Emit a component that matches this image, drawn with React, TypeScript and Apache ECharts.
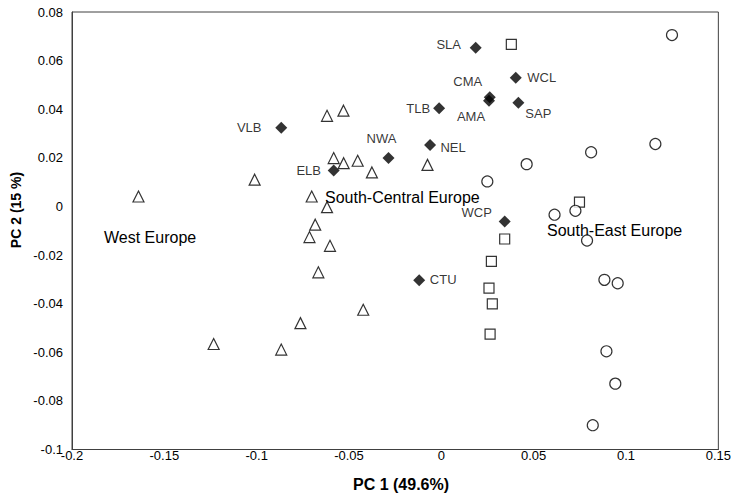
import React, { useEffect, useRef } from "react";
import * as echarts from "echarts";

// ---- Data ----
const xTicks = [-0.2, -0.15, -0.1, -0.05, 0, 0.05, 0.1, 0.15];
const yTicks = [-0.1, -0.08, -0.06, -0.04, -0.02, 0, 0.02, 0.04, 0.06, 0.08];

const triangles: [number, number][] = [
  [-0.164, 0.0041],
  [-0.0619, 0.0373],
  [-0.053, 0.0394],
  [-0.0583, 0.0199],
  [-0.0529, 0.0178],
  [-0.0453, 0.0188],
  [-0.1011, 0.011],
  [-0.0702, 0.0041],
  [-0.0619, -0.0003],
  [-0.0683, -0.0075],
  [-0.0714, -0.0126],
  [-0.0603, -0.0162],
  [-0.0666, -0.0271],
  [-0.0423, -0.0425],
  [-0.0763, -0.048],
  [-0.1233, -0.0566],
  [-0.0867, -0.0589],
  [-0.0376, 0.014],
  [-0.0075, 0.0171],
];

const squares: [number, number][] = [
  [0.0379, 0.0667],
  [0.0748, 0.0018],
  [0.0343, -0.0134],
  [0.0271, -0.0226],
  [0.0258, -0.0336],
  [0.0276, -0.0401],
  [0.0264, -0.0525],
];

const circles: [number, number][] = [
  [0.1249, 0.0705],
  [0.0462, 0.0174],
  [0.0249, 0.0103],
  [0.0811, 0.0223],
  [0.1159, 0.0257],
  [0.0726, -0.0018],
  [0.0613, -0.0034],
  [0.0789, -0.014],
  [0.0883, -0.0302],
  [0.0955, -0.0316],
  [0.0894, -0.0596],
  [0.0942, -0.0729],
  [0.082, -0.09],
];

const diamondNames = ["VLB", "ELB", "NWA", "NEL", "TLB", "SLA", "CMA", "AMA", "WCL", "SAP", "WCP", "CTU"];
const diamondX = [-0.0867, -0.0583, -0.0286, -0.0061, -0.0012, 0.0186, 0.0262, 0.0258, 0.0403, 0.0417, 0.0343, -0.012];
const diamondY = [0.0324, 0.0148, 0.0199, 0.0253, 0.0404, 0.0653, 0.0449, 0.0435, 0.053, 0.0427, -0.0062, -0.0304];

const regionLabels = ["West Europe", "South-Central Europe", "South-East Europe"];

// label offsets (style only)
const labelOffsets: Record<string, [number, number]> = {
  VLB: [-32, 0],
  ELB: [-25, 0],
  NWA: [-7, -20],
  NEL: [23, 3],
  TLB: [-21, 0],
  SLA: [-27, -3],
  CMA: [-22, -16],
  AMA: [-18, 16],
  WCL: [26, 0],
  SAP: [20, 11],
  WCP: [-28, -9],
  CTU: [24, -1],
};

const FONT = "'Liberation Sans', Arial, Helvetica, sans-serif";

function fmt(v: number) {
  const r = Math.round(v * 1000) / 1000;
  return String(r);
}

export default function App() {
  const ref = useRef<HTMLDivElement>(null);
  useEffect(() => {
    if (!ref.current) return;
    const chart = echarts.init(ref.current, undefined, { renderer: "svg" });
    const openStyle = { color: "#ffffff", borderColor: "#000000", borderWidth: 1.2 };
    const option = {
      animation: false,
      backgroundColor: "#ffffff",
      textStyle: { fontFamily: FONT },
      grid: {
        left: 72,
        right: 13.5,
        top: 12,
        bottom: 46.5,
        show: true,
        borderColor: "#404040",
        borderWidth: 1,
        backgroundColor: "transparent",
      },
      xAxis: {
        type: "value",
        min: xTicks[0],
        max: xTicks[xTicks.length - 1],
        interval: 0.05,
        axisLine: { show: true, onZero: false, lineStyle: { color: "#404040", width: 1 } },
        axisTick: { show: false },
        splitLine: { show: false },
        axisLabel: {
          color: "#000",
          fontSize: 13,
          lineHeight: 10,
          margin: 1,
          fontFamily: FONT,
          formatter: (v: number) => fmt(v),
        },
      },
      yAxis: {
        type: "value",
        min: yTicks[0],
        max: yTicks[yTicks.length - 1],
        interval: 0.02,
        axisLine: { show: true, onZero: false, lineStyle: { color: "#404040", width: 1 } },
        axisTick: { show: false },
        splitLine: { show: false },
        axisLabel: { color: "#000", fontSize: 13, margin: 9, fontFamily: FONT, formatter: (v: number) => fmt(v) },
      },
      graphic: [
        {
          type: "text",
          x: 401,
          y: 484,
          style: {
            text: "PC 1 (49.6%)",
            font: `bold 16px ${FONT}`,
            fill: "#000",
            align: "center",
            verticalAlign: "middle",
          },
        },
        {
          type: "text",
          x: 16,
          y: 210,
          rotation: Math.PI / 2,
          style: {
            text: "PC 2 (15 %)",
            font: `bold 14px ${FONT}`,
            fill: "#000",
            align: "center",
            verticalAlign: "middle",
          },
        },
        {
          type: "text",
          x: 104,
          y: 237,
          style: { text: regionLabels[0], font: `16px ${FONT}`, fill: "#000", align: "left", verticalAlign: "middle" },
        },
        {
          type: "text",
          x: 325,
          y: 197,
          style: { text: regionLabels[1], font: `16px ${FONT}`, fill: "#000", align: "left", verticalAlign: "middle" },
        },
        {
          type: "text",
          x: 547,
          y: 230,
          style: { text: regionLabels[2], font: `16px ${FONT}`, fill: "#000", align: "left", verticalAlign: "middle" },
        },
      ],
      series: [
        {
          type: "scatter",
          symbol: "triangle",
          symbolSize: 11,
          itemStyle: openStyle,
          data: triangles,
          z: 3,
        },
        {
          type: "scatter",
          symbol: "rect",
          symbolSize: 10,
          itemStyle: openStyle,
          data: squares,
          z: 3,
        },
        {
          type: "scatter",
          symbol: "circle",
          symbolSize: 11,
          itemStyle: openStyle,
          data: circles,
          z: 3,
        },
        {
          type: "scatter",
          symbol: "diamond",
          symbolSize: 12,
          itemStyle: { color: "#000000" },
          z: 4,
          data: diamondNames.map((n, i) => ({
            name: n,
            value: [diamondX[i], diamondY[i]],
            label: {
              show: true,
              position: "inside",
              offset: labelOffsets[n],
              formatter: n,
              color: "#000",
              fontSize: 13,
              fontFamily: FONT,
              align: "center",
              verticalAlign: "middle",
            },
          })),
        },
      ],
    };
    chart.setOption(option as any);
    return () => chart.dispose();
  }, []);
  return (
    <div
      ref={ref}
      style={{ position: "fixed", left: 0, top: 0, width: 734, height: 496, background: "#fff" }}
    />
  );
}
